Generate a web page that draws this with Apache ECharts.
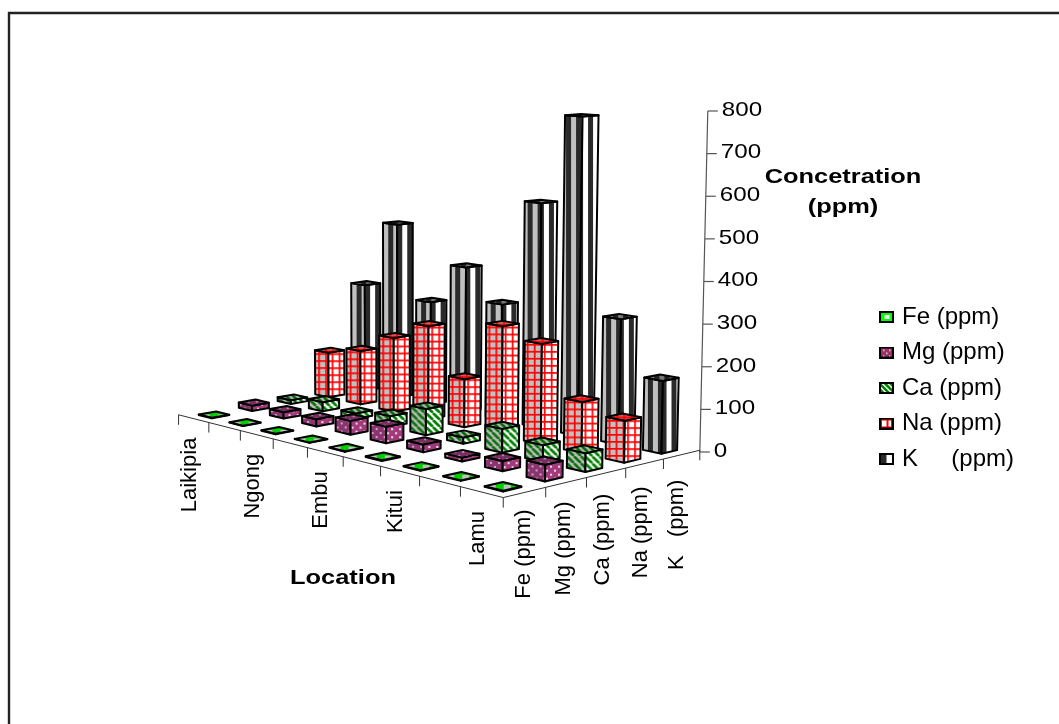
<!DOCTYPE html>
<html><head><meta charset="utf-8">
<style>html,body{margin:0;padding:0;background:#fff}#c{width:1059px;height:724px}</style>
<script src="https://cdn.jsdelivr.net/npm/echarts@6/dist/echarts.min.js"></script>
</head><body><div id="c"></div>
<script>
// ---- data ----
const locationLabels = ['Laikipia','','Ngong','','Embu','','Kitui','','Lamu'];
const elementLabels  = ['Fe (ppm)','Mg (ppm)','Ca (ppm)','Na (ppm)','K   (ppm)'];
const legendNames    = ['Fe (ppm)','Mg (ppm)','Ca (ppm)','Na (ppm)','K     (ppm)'];
const yTicks = [0,100,200,300,400,500,600,700,800];
const fe = [1,1,1,0.5,1,1.5,1,1,1.5];
const mg = [14,16,18,34,40,18,9,23,37];
const ca = [10,24,14,27,64,15,56,39,42];
const na = [120,141,191,237,120,267,240,120,96];
const k  = [289,465,270,374,292,558,778,299,170];
const valuesByElement = [fe,mg,ca,na,k];

// ---- floor projection (layout): bar-centre grid corners ----
const P00=[214,415],P80=[503,487],P84=[660,450],P04=[366,388];
const FP=0.43, FONT='"Liberation Sans"';
function solveH(){
  const [x0,y0]=P00,[x1,y1]=P80,[x2,y2]=P84,[x3,y3]=P04;
  const dx1=x1-x2,dx2=x3-x2,sx=x0-x1+x2-x3,dy1=y1-y2,dy2=y3-y2,sy=y0-y1+y2-y3;
  const det=dx1*dy2-dx2*dy1;
  const g=(sx*dy2-dx2*sy)/det,h=(dx1*sy-sx*dy1)/det;
  return {a:x1-x0+g*x1,b:x3-x0+h*x3,c:x0,d:y1-y0+g*y1,e:y3-y0+h*y3,f:y0,g,h};
}
const H=solveH();
const nL=locationLabels.length,nE=elementLabels.length;
const wAt=(i,j)=>H.g*i/(nL-1)+H.h*j/(nE-1)+1;
const floorPt=(i,j)=>{const u=i/(nL-1),v=j/(nE-1),w=wAt(i,j);return [(H.a*u+H.b*v+H.c)/w,(H.d*u+H.e*v+H.f)/w];};
const depthScale=(i,j)=>wAt(nL-.5,nE-.5)/wAt(i,j);
const cA=floorPt(-.5,-.5),cB=floorPt(nL-.5,-.5),cC=floorPt(nL-.5,nE-.5);

// ---- fill patterns ----
function tile(w,h,bg,draw){const c=document.createElement('canvas');c.width=w;c.height=h;const g=c.getContext('2d');g.fillStyle=bg;g.fillRect(0,0,w,h);draw(g);return c;}
const dots=(col)=>g=>{g.fillStyle=col;g.fillRect(1,1,2,2);g.fillRect(5,5,2,2);};
const stripes=(col)=>g=>{g.strokeStyle=col;g.lineWidth=2.7;for(let i=-7;i<=14;i+=7){g.beginPath();g.moveTo(i,0);g.lineTo(i+7,7);g.stroke();}};
const grid=(col)=>g=>{g.fillStyle=col;g.fillRect(0,3,7,1.7);g.fillRect(3,0,1.7,7);};
const bands=(col,x)=>g=>{g.fillStyle=col;g.fillRect(x,0,5,10);};
const feTile=(bg)=>g=>{g.fillStyle=bg;g.fillRect(4,3,7,5);};
const faces={
  0:{l:tile(15,11,'#00cc00',feTile('#c0c0c0')),r:tile(15,11,'#00cc00',feTile('#ffffff')),t:tile(15,11,'#00cc00',feTile('#c0c0c0'))},
  1:{l:tile(8,8,'#8a3570',dots('#c8a8c0')),r:tile(8,8,'#a33a7c',dots('#f0e0ec')),t:tile(8,8,'#7a2f63',dots('#b090a8'))},
  2:{l:tile(7,7,'#c0c0c0',stripes('#0f700f')),r:tile(7,7,'#ffffff',stripes('#008000')),t:tile(7,7,'#c0c0c0',stripes('#006a00'))},
  3:{l:tile(7,7,'#c0c0c0',grid('#ff0000')),r:tile(7,7,'#ffffff',grid('#ff0000')),t:tile(7,7,'#d06060',grid('#ff0000'))},
  4:{l:tile(10,10,'#c0c0c0',bands('#2a2a2a',5)),r:tile(10,10,'#ffffff',bands('#2a2a2a',0)),t:tile(10,10,'#777777',bands('#222222',0))}
};
function legendIcon(j){
  const c=document.createElement('canvas');c.width=30;c.height=24;const g=c.getContext('2d');
  g.fillStyle='#fff';g.fillRect(0,0,30,24);
  if(j===0){g.fillStyle='#00ff00';g.fillRect(0,0,30,24);g.fillStyle='#fff';g.fillRect(11,8,10,8);}
  if(j===1){g.fillStyle='#993366';g.fillRect(0,0,30,24);g.fillStyle='#f0d8e8';[[8,6],[20,6],[14,12],[8,18],[20,18]].forEach(p=>g.fillRect(p[0],p[1],3,3));}
  if(j===2){g.strokeStyle='#008000';g.lineWidth=5;for(let i=-24;i<30;i+=11){g.beginPath();g.moveTo(i,0);g.lineTo(i+24,24);g.stroke();}}
  if(j===3){g.strokeStyle='#ff0000';g.lineWidth=4;g.strokeRect(4,4,22,16);g.beginPath();g.moveTo(17,4);g.lineTo(17,20);g.stroke();}
  if(j===4){g.fillStyle='#2a2a2a';g.fillRect(0,0,15,24);}
  g.strokeStyle='#000';g.lineWidth=4;g.strokeRect(2,2,26,20);
  return 'image://'+c.toDataURL();
}

// ---- 3D bar, height taken from the value axis scale ----
function barItem(params,api){
  const i=api.value(0),j=api.value(1),val=api.value(2);
  const zero=api.coord([0,0])[1], top=api.coord([0,val])[1];
  const d=FP/2;
  const ctr=floorPt(i,j);
  const hpx=(zero-top)*depthScale(i,j);
  const topY=ctr[1]-hpx;
  const squash=(topY+45)/(ctr[1]+45);
  const lean=x=>x+(x-400)*hpx/12665;
  const base={L:floorPt(i-d,j-d),F:floorPt(i+d,j-d),R:floorPt(i+d,j+d),K:floorPt(i-d,j+d)};
  const up=p=>[lean(p[0]),topY+(p[1]-ctr[1])*squash];
  const tL=up(base.L),tF=up(base.F),tR=up(base.R),tK=up(base.K);
  const f=faces[j];
  const stroke={stroke:'#000',lineWidth:2,lineJoin:'round'};
  const fill=(img,x,y)=>({image:img,repeat:'repeat',x:x,y:y});
  return {type:'group',children:[
    {type:'polygon',shape:{points:[base.L,base.F,tF,tL]},style:{fill:fill(f.l,base.L[0],tL[1]),...stroke}},
    {type:'polygon',shape:{points:[base.F,base.R,tR,tF]},style:{fill:fill(f.r,base.F[0],tR[1]),...stroke}},
    {type:'polygon',shape:{points:[tL,tF,tR,tK]},style:{fill:fill(f.t,tL[0],tK[1]),...stroke}}
  ]};
}

// ---- axes drawn on the same projection, ticks from the value axis scale ----
const yAxisX=(y,y0,y1)=>cC[0]+(y0-y)*8/(y0-y1);
function axisItem(params,api){
  const zero=api.coord([0,0])[1],topv=api.coord([0,800])[1];
  const ch=[];const ln={stroke:'#333',lineWidth:1};
  const line=(a,b,s)=>({type:'line',shape:{x1:a[0],y1:a[1],x2:b[0],y2:b[1]},style:s||ln});
  const txt={fill:'#000',font:'22px '+FONT,verticalAlign:'middle',align:'right'};
  if(params.dataIndex===0){
    ch.push(line(cA,cB),line(cB,cC),line([yAxisX(zero,zero,topv),zero],[yAxisX(topv,zero,topv),topv],{stroke:'#555',lineWidth:1.2}));
    for(let i=0;i<=nL;i++){const p=floorPt(i-.5,-.5);ch.push(line(p,[p[0],p[1]+10]));}
    for(let j=1;j<=nE;j++){const p=floorPt(nL-.5,j-.5);ch.push(line(p,[p[0],p[1]+10]));}
    locationLabels.forEach((t,i)=>{if(!t)return;const p=floorPt(i,-.5);
      ch.push({type:'text',x:p[0]-4,y:p[1]+19,rotation:Math.PI/2,style:{text:t,...txt}});});
    elementLabels.forEach((t,j)=>{const p=floorPt(nL-.5,j);
      ch.push({type:'text',x:p[0]-1-j,y:p[1]+17+j*2,rotation:Math.PI/2,style:{text:t,...txt}});});
  }
  const y=api.coord([0,api.value(0)])[1],x=yAxisX(y,zero,topv);
  ch.push(line([x,y],[x+10,y],{stroke:'#555',lineWidth:1.2}));
  ch.push({type:'text',x:x+14,y:y-1,scaleX:1.15,style:{text:String(api.value(0)),fill:'#000',font:'21px '+FONT,align:'left',verticalAlign:'middle'}});
  return {type:'group',children:ch};
}

const zOrder=[4,3,2,1,0];
const series=[{type:'custom',name:'axes',silent:true,z:1,renderItem:axisItem,
  data:yTicks.map(t=>[t]),encode:{y:0},clip:false,animation:false}];
zOrder.forEach((j,n)=>series.push({
  type:'custom',name:legendNames[j],z:2+n,clip:false,animation:false,renderItem:barItem,
  encode:{x:0,y:2},
  data:valuesByElement[j].map((val,i)=>[i,j,val])
}));

const chart=echarts.init(document.getElementById('c'),null,{renderer:'canvas'});
chart.setOption({
  animation:false,backgroundColor:'#fff',
  grid:{left:100,width:600,top:111,height:341},
  xAxis:{type:'value',min:0,max:8,show:false},
  yAxis:{type:'value',min:0,max:800,interval:100,show:false},
  legend:{orient:'vertical',left:874,top:300,align:'left',itemWidth:15,itemHeight:12,itemGap:11.5,itemStyle:{borderWidth:0},
    selectedMode:false,textStyle:{fontFamily:FONT,fontSize:24,color:'#000',padding:[0,0,0,3]},
    data:legendNames.map((n,j)=>({name:n,icon:legendIcon(j)}))},
  graphic:[
    {type:'polyline',z:0,shape:{points:[[9,724],[9,13],[1059,13]]},style:{fill:'none',stroke:'#222',lineWidth:2.4}},
    {type:'text',x:843,y:177,scaleX:1.21,z:20,style:{text:'Concetration',font:'bold 21px '+FONT,fill:'#000',align:'center',verticalAlign:'middle'}},
    {type:'text',x:843,y:207,scaleX:1.21,z:20,style:{text:'(ppm)',font:'bold 21px '+FONT,fill:'#000',align:'center',verticalAlign:'middle'}},
    {type:'text',x:343,y:578,scaleX:1.21,z:20,style:{text:'Location',font:'bold 21px '+FONT,fill:'#000',align:'center',verticalAlign:'middle'}}
  ],
  series:series
});
</script></body></html>
